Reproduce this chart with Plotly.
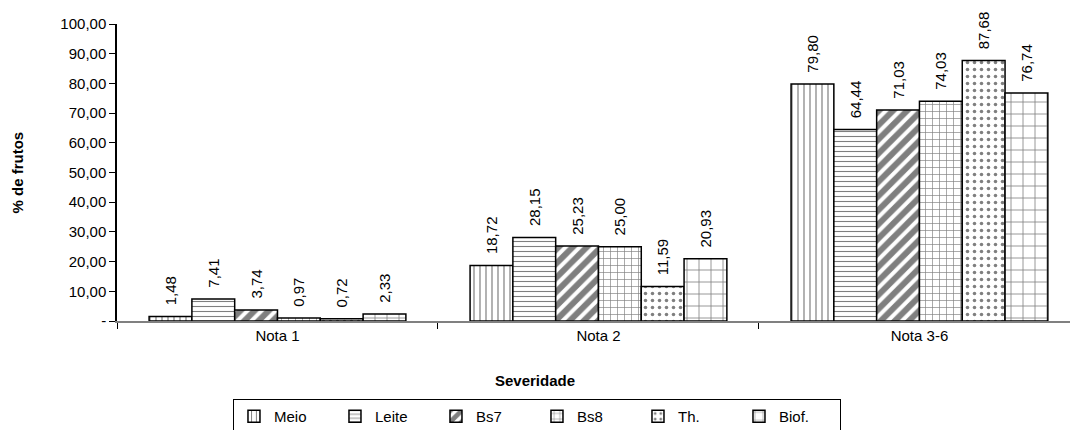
import plotly.graph_objects as go

# Severity classes on the x axis
categories = ["Nota 1", "Nota 2", "Nota 3-6"]

# Percentage of fruits per treatment
series_names = ["Meio", "Leite", "Bs7", "Bs8", "Th.", "Biof."]
meio = [1.48, 18.72, 79.80]
leite = [7.41, 28.15, 64.44]
bs7 = [3.74, 25.23, 71.03]
bs8 = [0.97, 25.00, 74.03]
th = [0.72, 11.59, 87.68]
biof = [2.33, 20.93, 76.74]

y_tick_values = [0, 10, 20, 30, 40, 50, 60, 70, 80, 90, 100]
y_tick_labels = ["-", "10,00", "20,00", "30,00", "40,00", "50,00",
                 "60,00", "70,00", "80,00", "90,00", "100,00"]

FONT = "Liberation Sans, Arial, sans-serif"

series_values = [meio, leite, bs7, bs8, th, biof]
patterns = [
    dict(shape="|", size=6, solidity=0.2),
    dict(shape="-", size=5, solidity=0.22),
    dict(shape="/", size=10, solidity=0.6),
    dict(shape="+", size=7, solidity=0.18),
    dict(shape=".", size=7, solidity=0.2),
    dict(shape="+", size=12, solidity=0.13),
]


def fmt(v):
    return "\u00a0\u00a0" + f"{v:.2f}".replace(".", ",")


fig = go.Figure()
for name, vals, pat in zip(series_names, series_values, patterns):
    fig.add_trace(go.Bar(
        name=name,
        x=categories,
        y=vals,
        text=[fmt(v) for v in vals],
        textposition="outside",
        textangle=-90,
        constraintext="none",
        cliponaxis=False,
        textfont=dict(family=FONT, size=15, color="black"),
        marker=dict(
            color="white",
            line=dict(color="black", width=1.5),
            pattern=dict(fgcolor="black", bgcolor="white", fillmode="overlay", **pat),
        ),
    ))

fig.update_layout(
    width=1070,
    height=430,
    margin=dict(l=117, r=0, t=24, b=109, autoexpand=False),
    paper_bgcolor="white",
    plot_bgcolor="white",
    barmode="group",
    bargap=0.2,
    bargroupgap=0,
    font=dict(family=FONT, size=15, color="black"),
    showlegend=True,
    legend=dict(
        orientation="h",
        x=0.1217, xanchor="left",
        y=-0.2626, yanchor="top",
        bordercolor="black", borderwidth=1,
        itemwidth=30,
        entrywidth=56,
        font=dict(family=FONT, size=15, color="black"),
        itemclick=False,
    ),
    xaxis=dict(
        type="category",
        range=[-0.5, 2.469],
        showline=True, linecolor="#808080", linewidth=1.5,
        ticks="outside", ticklen=6, tickcolor="black",
        tickson="boundaries",
        tickfont=dict(family=FONT, size=15, color="black"),
        showgrid=False,
        zeroline=False,
    ),
    yaxis=dict(
        range=[0, 100],
        tickmode="array",
        tickvals=y_tick_values,
        ticktext=y_tick_labels,
        showline=True, linecolor="black", linewidth=1.5,
        ticks="outside", ticklen=6, tickcolor="black",
        tickfont=dict(family=FONT, size=15, color="black"),
        showgrid=False,
        zeroline=False,
    ),
    annotations=[
        dict(text="<b>% de frutos</b>", textangle=-90,
             xref="paper", yref="paper", x=-0.1039, y=0.5,
             xanchor="center", yanchor="middle", showarrow=False,
             font=dict(family=FONT, size=15, color="black")),
        dict(text="<b>Severidade</b>",
             xref="paper", yref="paper", x=0.4386, y=-0.1987,
             xanchor="center", yanchor="middle", showarrow=False,
             font=dict(family=FONT, size=15, color="black")),
    ],
)

fig.write_html("out.html")
